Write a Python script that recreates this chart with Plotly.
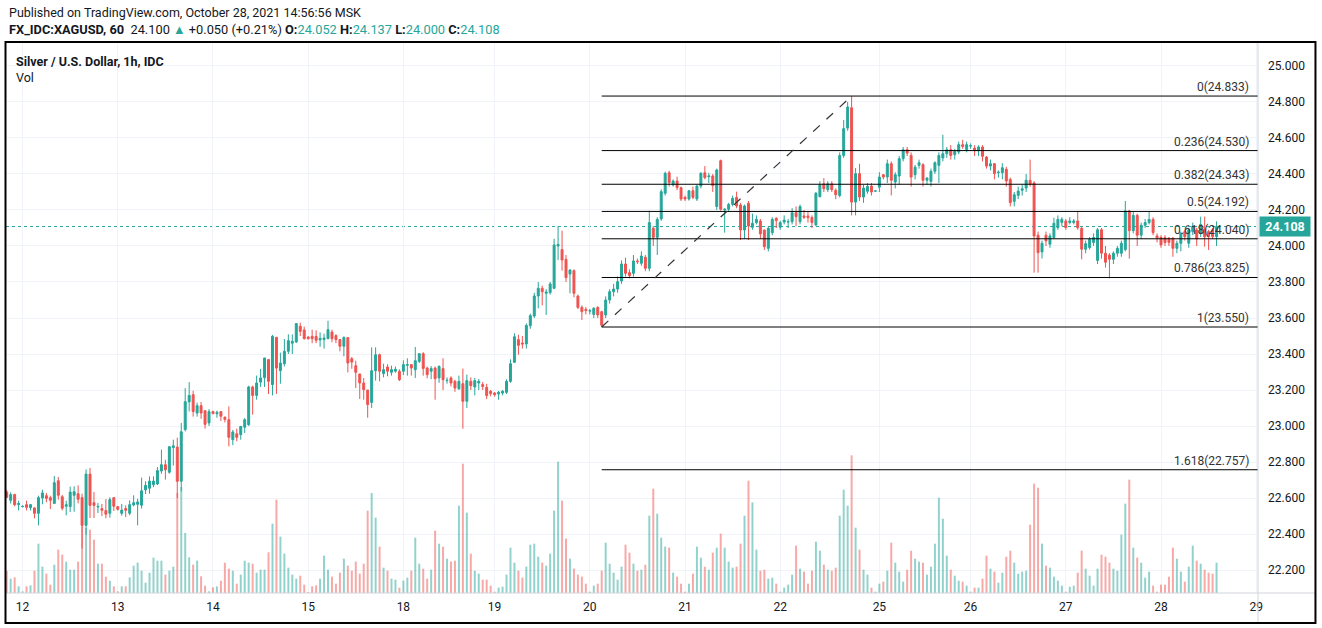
import plotly.graph_objects as go

# ---------------- data (hourly XAGUSD candles, bar index 0..305) ----------------
opens = [
    22.633, 22.587, 22.619, 22.563, 22.552, 22.563, 22.546, 22.545, 22.515, 22.600,
    22.613, 22.602, 22.570, 22.696, 22.607, 22.554, 22.552, 22.615, 22.624, 22.602,
    22.448, 22.733, 22.574, 22.550, 22.541, 22.530, 22.515, 22.602, 22.552, 22.515,
    22.541, 22.515, 22.561, 22.565, 22.560, 22.645, 22.654, 22.674, 22.678, 22.750,
    22.785, 22.743, 22.880, 22.883, 22.693, 22.980, 23.134, 23.174, 23.072, 23.113,
    23.085, 23.017, 23.080, 23.068, 23.080, 23.048, 23.035, 22.924, 22.957, 22.952,
    22.993, 23.007, 23.217, 23.170, 23.244, 23.268, 23.369, 23.230, 23.493, 23.307,
    23.346, 23.415, 23.460, 23.467, 23.554, 23.533, 23.494, 23.498, 23.498, 23.478,
    23.480, 23.485, 23.522, 23.502, 23.480, 23.443, 23.491, 23.374, 23.335, 23.289,
    23.239, 23.200, 23.131, 23.307, 23.396, 23.291, 23.328, 23.298, 23.304, 23.304,
    23.304, 23.337, 23.341, 23.313, 23.359, 23.402, 23.322, 23.304, 23.322, 23.267,
    23.319, 23.252, 23.267, 23.248, 23.207, 23.235, 23.137, 23.248, 23.217, 23.239,
    23.230, 23.215, 23.193, 23.183, 23.178, 23.183, 23.187, 23.248, 23.354, 23.480,
    23.461, 23.456, 23.557, 23.611, 23.722, 23.765, 23.737, 23.741, 23.765, 24.000,
    23.980, 23.926, 23.844, 23.863, 23.722, 23.659, 23.648, 23.639, 23.620, 23.659,
    23.635, 23.617, 23.700, 23.746, 23.761, 23.806, 23.900, 23.852, 23.848, 23.917,
    23.904, 23.937, 23.876, 24.098, 24.048, 24.150, 24.293, 24.407, 24.339, 24.361,
    24.324, 24.270, 24.261, 24.307, 24.261, 24.333, 24.407, 24.385, 24.389, 24.219,
    24.474, 24.200, 24.204, 24.231, 24.270, 24.228, 24.089, 24.237, 24.104, 24.130,
    24.139, 24.089, 23.987, 24.074, 24.154, 24.104, 24.133, 24.133, 24.135, 24.185,
    24.135, 24.167, 24.167, 24.159, 24.117, 24.274, 24.346, 24.313, 24.346, 24.309,
    24.281, 24.503, 24.655, 24.768, 24.244, 24.402, 24.272, 24.304, 24.333, 24.305,
    24.327, 24.396, 24.383, 24.457, 24.355, 24.389, 24.485, 24.535, 24.503, 24.396,
    24.448, 24.452, 24.365, 24.359, 24.415, 24.448, 24.489, 24.513, 24.535, 24.507,
    24.522, 24.563, 24.535, 24.555, 24.544, 24.529, 24.550, 24.494, 24.444, 24.457,
    24.407, 24.407, 24.426, 24.370, 24.248, 24.281, 24.309, 24.322, 24.365, 24.350,
    24.060, 23.967, 24.060, 24.010, 24.047, 24.102, 24.130, 24.139, 24.130, 24.130,
    24.139, 24.098, 23.982, 23.991, 24.020, 23.920, 24.090, 23.960, 23.950, 23.926,
    23.960, 23.960, 23.980, 24.195, 24.085, 24.170, 24.060, 24.115, 24.130, 24.148,
    24.056, 24.048, 24.046, 24.043, 24.043, 23.987, 24.015, 24.080, 24.015, 24.080,
    24.089, 24.070, 24.094, 24.080, 24.090, 24.052,
]
highs = [
    22.645, 22.632, 22.624, 22.585, 22.560, 22.585, 22.567, 22.548, 22.613, 22.646,
    22.628, 22.613, 22.722, 22.717, 22.617, 22.585, 22.663, 22.665, 22.670, 22.624,
    22.759, 22.767, 22.633, 22.572, 22.567, 22.594, 22.604, 22.602, 22.556, 22.567,
    22.559, 22.587, 22.615, 22.596, 22.713, 22.693, 22.720, 22.720, 22.772, 22.869,
    22.813, 22.887, 22.924, 22.935, 23.017, 23.210, 23.244, 23.196, 23.130, 23.133,
    23.085, 23.094, 23.085, 23.085, 23.080, 23.054, 23.109, 22.978, 22.985, 22.998,
    23.044, 23.224, 23.224, 23.280, 23.317, 23.378, 23.369, 23.506, 23.493, 23.407,
    23.483, 23.509, 23.509, 23.572, 23.574, 23.552, 23.500, 23.535, 23.531, 23.520,
    23.513, 23.585, 23.535, 23.510, 23.480, 23.498, 23.494, 23.383, 23.363, 23.289,
    23.267, 23.200, 23.437, 23.437, 23.402, 23.346, 23.343, 23.335, 23.330, 23.315,
    23.365, 23.376, 23.343, 23.439, 23.402, 23.410, 23.330, 23.333, 23.330, 23.337,
    23.376, 23.270, 23.276, 23.257, 23.280, 23.319, 23.285, 23.270, 23.267, 23.261,
    23.244, 23.235, 23.200, 23.189, 23.195, 23.200, 23.260, 23.370, 23.515, 23.507,
    23.500, 23.570, 23.624, 23.740, 23.800, 23.780, 23.760, 23.800, 24.040, 24.111,
    24.085, 23.950, 23.870, 23.870, 23.730, 23.670, 23.660, 23.650, 23.660, 23.665,
    23.640, 23.720, 23.760, 23.790, 23.830, 23.920, 23.935, 23.870, 23.950, 23.930,
    23.970, 23.950, 24.196, 24.110, 24.160, 24.315, 24.413, 24.418, 24.370, 24.385,
    24.330, 24.280, 24.310, 24.330, 24.340, 24.410, 24.444, 24.407, 24.400, 24.430,
    24.480, 24.210, 24.240, 24.280, 24.302, 24.240, 24.230, 24.250, 24.180, 24.170,
    24.150, 24.090, 24.110, 24.160, 24.160, 24.140, 24.170, 24.150, 24.210, 24.220,
    24.230, 24.200, 24.190, 24.170, 24.300, 24.360, 24.377, 24.360, 24.360, 24.320,
    24.520, 24.700, 24.800, 24.833, 24.433, 24.457, 24.340, 24.350, 24.350, 24.310,
    24.410, 24.400, 24.480, 24.470, 24.410, 24.500, 24.550, 24.550, 24.520, 24.450,
    24.480, 24.460, 24.380, 24.430, 24.470, 24.520, 24.618, 24.550, 24.560, 24.540,
    24.580, 24.590, 24.580, 24.570, 24.560, 24.560, 24.560, 24.500, 24.480, 24.460,
    24.420, 24.460, 24.440, 24.380, 24.300, 24.330, 24.340, 24.400, 24.480, 24.360,
    24.080, 24.030, 24.080, 24.070, 24.157, 24.170, 24.160, 24.150, 24.160, 24.150,
    24.195, 24.110, 24.030, 24.050, 24.070, 24.100, 24.100, 24.000, 23.960, 23.970,
    24.000, 24.030, 24.250, 24.200, 24.190, 24.180, 24.130, 24.150, 24.190, 24.160,
    24.070, 24.060, 24.060, 24.050, 24.050, 24.030, 24.080, 24.090, 24.100, 24.130,
    24.100, 24.163, 24.163, 24.090, 24.100, 24.137,
]
lows = [
    22.600, 22.569, 22.554, 22.531, 22.548, 22.531, 22.531, 22.487, 22.448, 22.565,
    22.576, 22.539, 22.570, 22.591, 22.531, 22.504, 22.522, 22.524, 22.570, 22.319,
    22.396, 22.489, 22.489, 22.517, 22.500, 22.487, 22.491, 22.528, 22.530, 22.502,
    22.494, 22.504, 22.554, 22.448, 22.541, 22.622, 22.624, 22.660, 22.672, 22.735,
    22.702, 22.735, 22.780, 22.600, 22.637, 22.970, 23.081, 23.052, 23.052, 23.040,
    22.985, 23.000, 23.066, 23.046, 23.028, 23.020, 22.887, 22.894, 22.915, 22.924,
    22.961, 23.000, 23.063, 23.146, 23.217, 23.217, 23.178, 23.170, 23.178, 23.235,
    23.331, 23.400, 23.400, 23.461, 23.500, 23.480, 23.480, 23.460, 23.460, 23.440,
    23.430, 23.485, 23.465, 23.460, 23.415, 23.387, 23.298, 23.318, 23.211, 23.150,
    23.146, 23.046, 23.100, 23.252, 23.248, 23.270, 23.276, 23.280, 23.296, 23.250,
    23.283, 23.280, 23.280, 23.267, 23.350, 23.280, 23.265, 23.260, 23.146, 23.240,
    23.200, 23.235, 23.220, 23.190, 23.200, 22.985, 23.100, 23.200, 23.170, 23.200,
    23.200, 23.150, 23.165, 23.163, 23.146, 23.170, 23.178, 23.240, 23.350, 23.396,
    23.430, 23.430, 23.540, 23.600, 23.654, 23.670, 23.617, 23.730, 23.760, 23.922,
    23.863, 23.800, 23.737, 23.715, 23.650, 23.589, 23.620, 23.620, 23.600, 23.600,
    23.550, 23.600, 23.680, 23.720, 23.740, 23.790, 23.830, 23.820, 23.830, 23.900,
    23.890, 23.860, 23.860, 24.000, 23.950, 24.140, 24.280, 24.330, 24.330, 24.310,
    24.250, 24.250, 24.252, 24.260, 24.250, 24.320, 24.370, 24.350, 24.300, 24.200,
    24.196, 24.074, 24.190, 24.220, 24.210, 24.033, 24.040, 24.033, 24.090, 24.120,
    24.040, 23.978, 23.970, 24.060, 24.100, 24.090, 24.120, 24.100, 24.120, 24.110,
    24.120, 24.150, 24.130, 24.100, 24.110, 24.270, 24.300, 24.300, 24.300, 24.260,
    24.270, 24.490, 24.640, 24.170, 24.170, 24.250, 24.240, 24.290, 24.280, 24.300,
    24.300, 24.370, 24.350, 24.281, 24.320, 24.340, 24.470, 24.500, 24.330, 24.370,
    24.430, 24.330, 24.340, 24.330, 24.400, 24.350, 24.470, 24.490, 24.480, 24.480,
    24.510, 24.540, 24.520, 24.540, 24.500, 24.500, 24.470, 24.430, 24.420, 24.370,
    24.380, 24.370, 24.330, 24.220, 24.220, 24.260, 24.280, 24.300, 24.330, 23.852,
    23.852, 23.930, 24.000, 23.990, 24.040, 24.090, 24.110, 24.090, 24.120, 24.120,
    24.090, 23.926, 23.960, 23.980, 24.000, 23.900, 23.930, 23.880, 23.820, 23.900,
    23.940, 23.940, 23.970, 23.930, 24.070, 24.000, 24.040, 24.100, 24.120, 24.060,
    24.020, 23.990, 24.000, 24.000, 23.940, 23.960, 23.970, 24.030, 23.990, 24.060,
    24.000, 24.050, 23.996, 23.978, 24.040, 24.000,
]
closes = [
    22.604, 22.619, 22.563, 22.570, 22.553, 22.548, 22.563, 22.515, 22.602, 22.628,
    22.598, 22.587, 22.685, 22.615, 22.543, 22.563, 22.633, 22.635, 22.593, 22.448,
    22.733, 22.559, 22.559, 22.553, 22.532, 22.510, 22.591, 22.554, 22.537, 22.533,
    22.532, 22.563, 22.574, 22.578, 22.640, 22.670, 22.694, 22.694, 22.752, 22.785,
    22.757, 22.885, 22.890, 22.693, 22.968, 23.135, 23.170, 23.080, 23.113, 23.072,
    23.009, 23.080, 23.068, 23.076, 23.054, 23.037, 22.937, 22.967, 22.937, 22.998,
    23.035, 23.217, 23.170, 23.239, 23.267, 23.378, 23.248, 23.498, 23.322, 23.350,
    23.415, 23.474, 23.470, 23.569, 23.526, 23.485, 23.485, 23.485, 23.476, 23.487,
    23.489, 23.535, 23.485, 23.480, 23.443, 23.492, 23.350, 23.355, 23.298, 23.239,
    23.202, 23.119, 23.307, 23.396, 23.304, 23.313, 23.304, 23.313, 23.315, 23.257,
    23.341, 23.341, 23.322, 23.363, 23.402, 23.320, 23.285, 23.319, 23.263, 23.331,
    23.257, 23.254, 23.239, 23.211, 23.248, 23.137, 23.252, 23.224, 23.252, 23.248,
    23.220, 23.169, 23.180, 23.174, 23.187, 23.193, 23.248, 23.346, 23.496, 23.448,
    23.456, 23.559, 23.613, 23.722, 23.765, 23.746, 23.744, 23.789, 24.006, 24.009,
    23.922, 23.824, 23.867, 23.737, 23.659, 23.635, 23.641, 23.640, 23.654, 23.617,
    23.560, 23.700, 23.746, 23.761, 23.802, 23.900, 23.848, 23.835, 23.917, 23.913,
    23.944, 23.876, 24.130, 24.048, 24.148, 24.302, 24.404, 24.352, 24.361, 24.324,
    24.261, 24.261, 24.307, 24.270, 24.333, 24.404, 24.380, 24.389, 24.335, 24.422,
    24.204, 24.204, 24.231, 24.265, 24.222, 24.089, 24.222, 24.111, 24.126, 24.148,
    24.067, 23.996, 24.098, 24.148, 24.141, 24.130, 24.144, 24.135, 24.185, 24.163,
    24.219, 24.159, 24.157, 24.130, 24.293, 24.339, 24.318, 24.346, 24.313, 24.285,
    24.503, 24.652, 24.772, 24.244, 24.402, 24.272, 24.322, 24.331, 24.300, 24.306,
    24.383, 24.383, 24.457, 24.365, 24.396, 24.485, 24.535, 24.516, 24.383, 24.438,
    24.463, 24.365, 24.378, 24.415, 24.463, 24.503, 24.513, 24.535, 24.503, 24.526,
    24.563, 24.553, 24.563, 24.557, 24.529, 24.550, 24.498, 24.444, 24.457, 24.402,
    24.410, 24.435, 24.361, 24.241, 24.285, 24.305, 24.318, 24.365, 24.343, 24.056,
    23.963, 24.015, 24.028, 24.056, 24.126, 24.148, 24.148, 24.102, 24.139, 24.139,
    24.102, 23.982, 24.013, 24.037, 24.047, 24.090, 23.960, 23.910, 23.926, 23.960,
    23.987, 24.015, 24.195, 24.085, 24.170, 24.060, 24.115, 24.130, 24.148, 24.074,
    24.044, 24.006, 24.019, 24.020, 23.987, 24.015, 24.070, 24.052, 24.089, 24.107,
    24.039, 24.120, 24.052, 24.052, 24.052, 24.108,
]
volumes = [
    67, 43, 47, 20, 5, 20, 23, 67, 148, 79,
    58, 25, 85, 130, 115, 94, 70, 70, 94, 200,
    195, 190, 160, 88, 88, 49, 37, 20, 5, 20,
    20, 47, 82, 91, 67, 31, 61, 106, 97, 97,
    55, 67, 79, 300, 318, 180, 107, 85, 97, 50,
    22, 5, 17, 20, 37, 91, 73, 67, 28, 55,
    97, 91, 88, 61, 70, 70, 122, 208, 280, 169,
    118, 76, 55, 43, 52, 25, 3, 20, 23, 43,
    112, 70, 49, 28, 61, 103, 82, 67, 94, 58,
    88, 247, 300, 226, 139, 76, 67, 43, 40, 16,
    37, 46, 67, 166, 88, 73, 43, 70, 187, 148,
    139, 103, 94, 97, 262, 388, 241, 118, 67, 58,
    40, 40, 22, 4, 16, 19, 55, 136, 91, 67,
    46, 79, 145, 148, 109, 91, 82, 118, 247, 394,
    277, 163, 103, 73, 55, 49, 28, 4, 22, 28,
    67, 151, 88, 61, 40, 79, 145, 121, 88, 67,
    70, 85, 232, 313, 238, 166, 139, 136, 61, 49,
    28, 4, 28, 58, 139, 106, 79, 70, 121, 136,
    178, 136, 94, 76, 79, 148, 232, 337, 272, 130,
    67, 70, 43, 46, 28, 4, 16, 25, 55, 142,
    73, 64, 28, 67, 154, 127, 85, 70, 67, 76,
    232, 310, 262, 413, 196, 130, 70, 55, 16, 4,
    28, 34, 67, 151, 91, 64, 34, 70, 127, 103,
    94, 91, 55, 79, 148, 286, 223, 112, 70, 52,
    37, 34, 22, 4, 16, 16, 43, 112, 73, 64,
    31, 61, 109, 127, 91, 58, 64, 67, 205, 328,
    316, 148, 82, 76, 49, 37, 22, 4, 19, 22,
    61, 127, 73, 52, 22, 73, 115, 109, 91, 73,
    67, 175, 268, 340, 136, 106, 91, 46, 64, 22,
    4, 25, 25, 49, 136, 103, 64, 34, 79, 142,
    97, 88, 70, 61, 58, 91,
]
day_labels = ["12", "13", "14", "15", "18", "19", "20", "21", "22", "25", "26", "27", "28", "29"]
day_start_bars = [4, 28, 52, 76, 100, 123, 147, 171, 195, 220, 243, 267, 291, 315]

fib_ratios = [0, 0.236, 0.382, 0.5, 0.618, 0.786, 1, 1.618]
swing_low_bar, swing_low = 150, 23.550
swing_high_bar, swing_high = 213, 24.833
last_close = 24.108

# ---------------- styling ----------------
UP = "#26a69a"
DOWN = "#ef5350"
UP_VOL = "rgba(38,166,154,0.5)"
DOWN_VOL = "rgba(239,83,80,0.5)"
TEXT = "#131722"
GRID = "#f0f3fa"
FONT = "Roboto"

bars = list(range(len(closes)))
vol_colors = [UP_VOL if c >= o else DOWN_VOL for o, c in zip(opens, closes)]

X_RANGE = [-0.18, 315.45]
Y_RANGE = [22.0722, 25.1333]

fig = go.Figure()
fig.add_trace(go.Bar(
    x=bars, y=volumes, marker_color=vol_colors, marker_line_width=0,
    width=0.5, yaxis="y2", hoverinfo="skip", showlegend=False,
))
fig.add_trace(go.Candlestick(
    x=bars, open=opens, high=highs, low=lows, close=closes,
    increasing=dict(line=dict(color=UP, width=1), fillcolor=UP),
    decreasing=dict(line=dict(color=DOWN, width=1), fillcolor=DOWN),
    whiskerwidth=0, hoverinfo="skip", showlegend=False,
))

shapes = []
annotations = []

# last price dotted line
shapes.append(dict(type="line", xref="paper", yref="y", x0=0, x1=1,
                   y0=last_close, y1=last_close, layer="below",
                   line=dict(color=UP, width=1, dash="dot")))

# fib retracement
span = swing_high - swing_low
for r in fib_ratios:
    level = round(swing_high - r * span + 1e-9, 3)
    shapes.append(dict(type="line", xref="x", yref="y", x0=swing_low_bar, x1=X_RANGE[1],
                       y0=level, y1=level, line=dict(color="#000000", width=1)))
    annotations.append(dict(xref="paper", yref="y", x=1, y=level, xanchor="right",
                            yanchor="bottom", xshift=-7, yshift=0,
                            text=f"{r:g}({level:.3f})", showarrow=False,
                            font=dict(family=FONT, size=12, color="#333333")))
shapes.append(dict(type="line", xref="x", yref="y", x0=swing_low_bar, y0=swing_low,
                   x1=swing_high_bar, y1=swing_high,
                   line=dict(color="#333333", width=1.2, dash="dash")))

# frame / separators (paper coords)
shapes.append(dict(type="line", xref="paper", yref="paper", x0=1, x1=1, y0=-0.0544, y1=1,
                   line=dict(color="#d1d4dc", width=1)))
shapes.append(dict(type="line", xref="paper", yref="paper", x0=0, x1=1.0459, y0=0, y1=0,
                   line=dict(color="#d1d4dc", width=1)))
shapes.append(dict(type="rect", xref="paper", yref="paper", x0=-0.0004, x1=1.0459,
                   y0=-0.0544, y1=1.0, line=dict(color="#000000", width=2)))

# last price label
annotations.append(dict(xref="paper", yref="y", x=1, y=last_close, xanchor="left",
                        xshift=1, text=f"<b>{last_close:.3f}</b>", showarrow=False,
                        bgcolor=UP, borderpad=2, width=46,
                        font=dict(family=FONT, size=12.5, color="#ffffff")))

# header texts
annotations.append(dict(xref="paper", yref="paper", x=0.0008, y=1.0544, xanchor="left",
                        yanchor="middle", showarrow=False,
                        text="Published on TradingView.com, October 28, 2021 14:56:56 MSK",
                        font=dict(family=FONT, size=12.5, color=TEXT)))
g = UP
annotations.append(dict(
    xref="paper", yref="paper", x=0.0008, y=1.0218, xanchor="left", yanchor="middle",
    showarrow=False,
    text=(f"<b>FX_IDC:XAGUSD, 60</b>  24.100 <span style='color:{g}'>▲</span> +0.050 (+0.21%) "
          f"<b>O:</b><span style='color:{g}'>24.052</span> <b>H:</b><span style='color:{g}'>24.137</span> "
          f"<b>L:</b><span style='color:{g}'>24.000</span> <b>C:</b><span style='color:{g}'>24.108</span>"),
    font=dict(family=FONT, size=12.8, color=TEXT)))
annotations.append(dict(xref="paper", yref="paper", x=0.0064, y=0.9655, xanchor="left",
                        yanchor="middle", showarrow=False,
                        text="<b>Silver / U.S. Dollar, 1h, IDC</b>",
                        font=dict(family=FONT, size=12.5, color=TEXT)))
annotations.append(dict(xref="paper", yref="paper", x=0.0064, y=0.9347, xanchor="left",
                        yanchor="middle", showarrow=False, text="Vol",
                        font=dict(family=FONT, size=12.5, color=TEXT)))

fig.update_layout(
    width=1322, height=628,
    margin=dict(l=6, r=64, t=42, b=35),
    paper_bgcolor="#ffffff", plot_bgcolor="#ffffff",
    showlegend=False, hovermode=False,
    font=dict(family=FONT, size=12, color=TEXT),
    xaxis=dict(range=X_RANGE, tickmode="array", tickvals=day_start_bars, ticktext=day_labels,
               showgrid=True, gridcolor=GRID, gridwidth=1, zeroline=False, showline=False,
               ticks="", rangeslider=dict(visible=False), tickfont=dict(size=12, color=TEXT),
               ticklabelstandoff=5),
    yaxis=dict(range=Y_RANGE, side="right", dtick=0.2, tick0=22.2, tickformat=".3f",
               showgrid=True, gridcolor=GRID, gridwidth=1, zeroline=False, showline=False,
               ticks="", tickfont=dict(size=12, color=TEXT), ticklabelstandoff=9),
    yaxis2=dict(range=[0, 1653], overlaying="y", visible=False, fixedrange=True),
    shapes=shapes, annotations=annotations,
)

fig.write_html("out.html")
